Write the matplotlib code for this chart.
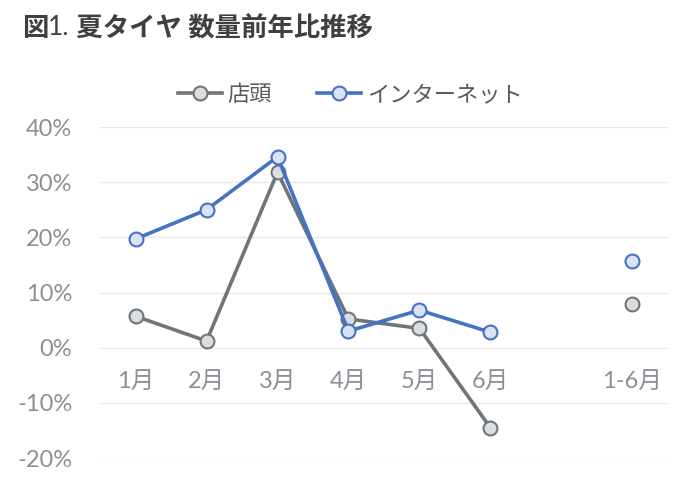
import numpy as np
import matplotlib.pyplot as plt
from matplotlib.ticker import PercentFormatter

plt.rcParams['font.family'] = ['Lato', 'Noto Sans CJK JP', 'DejaVu Sans']
plt.rcParams['axes.unicode_minus'] = False

# data
categories = ['1月', '2月', '3月', '4月', '5月', '6月', '', '1-6月']
store = [5.7, 1.2, 31.8, 5.2, 3.5, -14.5, None, 8.0]
internet = [19.7, 25.0, 34.6, 3.0, 6.8, 2.8, None, 15.8]
series_names = ['店頭', 'インターネット']

gray = '#6f767b'
blue = '#4472c4'
text_gray = '#8b9096'

fig = plt.figure(figsize=(7, 4.9), dpi=100)
ax = fig.add_axes([0.143, 0.0653, 0.811, 0.6755])

x = np.arange(len(categories))
y1 = np.array([np.nan if v is None else v for v in store]) / 100
y2 = np.array([np.nan if v is None else v for v in internet]) / 100

ax.plot(x, y1, color=gray, lw=2.6, marker='o', ms=10, mfc='#dcdddf', mec=gray, mew=1.5,
        label=series_names[0], zorder=3)
ax.plot(x, y2, color=blue, lw=2.6, marker='o', ms=10, mfc='#dae3f3', mec=blue, mew=1.5,
        label=series_names[1], zorder=4)

ax.set_xlim(-0.5, len(categories) - 0.5)
ax.set_ylim(-0.2, 0.4)
ax.set_yticks(np.arange(-0.2, 0.41, 0.1))
ax.yaxis.set_major_formatter(PercentFormatter(1.0, decimals=0))
ax.set_xticks(x)
ax.set_xticklabels(categories)

ax.grid(axis='y', color='#e8e8e8', lw=1)
ax.set_axisbelow(True)
for s in ['top', 'right', 'left']:
    ax.spines[s].set_visible(False)
ax.spines['bottom'].set_position(('data', 0))
ax.spines['bottom'].set_visible(False)
ax.tick_params(axis='x', length=0, pad=17, labelsize=17, labelcolor=text_gray)
ax.tick_params(axis='y', length=0, pad=20, labelsize=17, labelcolor=text_gray)

fig.legend(loc='center', bbox_to_anchor=(0.5, 1 - 95 / 490), ncol=2, frameon=False,
           fontsize=16, labelcolor='#595959', handlelength=2.0, handletextpad=0.25,
           columnspacing=2.0)

# title: bold parts with a lighter "1."
t1 = fig.text(22 / 700, 1 - 28 / 490, '図', fontsize=19, fontweight='bold',
              color='#404040', va='center', ha='left')
t2 = plt.annotate('1.', xy=(1, 0), xycoords=t1, va='bottom', ha='left',
                  fontsize=19, color='#404040')
plt.annotate(' 夏タイヤ 数量前年比推移', xy=(1, 0), xycoords=t2, va='bottom', ha='left',
             fontsize=19, fontweight='bold', color='#404040')

fig.savefig('out.png', dpi=100)
